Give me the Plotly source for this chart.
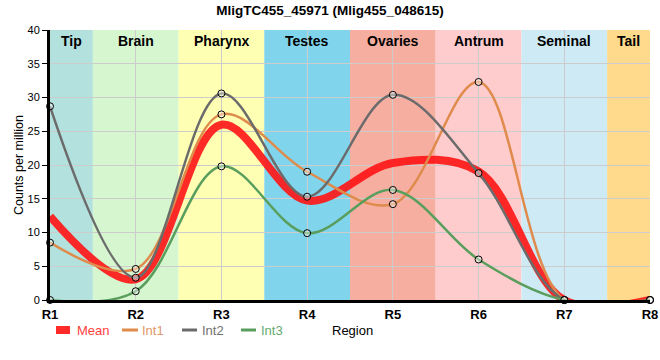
import plotly.graph_objects as go

regions = ["R1", "R2", "R3", "R4", "R5", "R6", "R7", "R8"]
int1 = [8.5, 4.6, 27.5, 19.0, 14.2, 32.3, 0.0, 0.0]
int2 = [28.7, 3.3, 30.6, 15.3, 30.4, 18.8, 0.0, 0.0]
int3 = [0.0, 1.3, 19.8, 9.9, 16.3, 6.0, 0.0, 0.0]
mean = [round((a + b + c) / 3, 2) for a, b, c in zip(int1, int2, int3)]

band_names = ["Tip", "Brain", "Pharynx", "Testes", "Ovaries", "Antrum", "Seminal", "Tail"]
band_starts = [0, 0.5, 1.5, 2.5, 3.5, 4.5, 5.5, 6.5]
band_ends = [0.5, 1.5, 2.5, 3.5, 4.5, 5.5, 6.5, 7]
band_colors = ["#b3e1dd", "#d6f6d0", "#ffffb4", "#80d5ec", "#f6aea1", "#ffccce", "#cdeaf5", "#ffd98c"]

xs = list(range(len(regions)))
FONT = "Liberation Sans, Arial, sans-serif"

# plot area in pixels (for legend placement helpers)
L, R, T, B = 50, 650, 30, 300
def px(x):
    return (x - L) / (R - L)
def py(y):
    return (B - y) / (B - T)

fig = go.Figure()

fig.add_trace(go.Scatter(
    x=xs, y=mean, mode="lines", name="Mean", showlegend=False,
    line=dict(color="rgba(255,20,20,0.9)", width=8, shape="spline", smoothing=1),
))
series = [("Int1", int1, "#df8b4c"), ("Int2", int2, "#6b6b6b"), ("Int3", int3, "#5a9e5e")]
for name, vals, col in series:
    fig.add_trace(go.Scatter(
        x=xs, y=vals, mode="lines+markers", name=name, showlegend=False, cliponaxis=False,
        line=dict(color=col, width=2.5, shape="spline", smoothing=1),
        marker=dict(size=7, color="rgba(255,255,255,0.4)", line=dict(color="black", width=1)),
    ))

shapes = []
annotations = []
for name, x0, x1, c in zip(band_names, band_starts, band_ends, band_colors):
    shapes.append(dict(type="rect", xref="x", yref="y", x0=x0, x1=x1, y0=0, y1=40,
                       fillcolor=c, line=dict(width=0), layer="below"))
    annotations.append(dict(x=(x0 + x1) / 2, y=40, xref="x", yref="y", yanchor="top", yshift=-1,
                            text=f"<b>{name}</b>", showarrow=False,
                            font=dict(family=FONT, size=14, color="black")))

# manual legend
legend_items = [
    ("Mean", "rgba(255,20,20,0.9)", "#ff4040", 56, 70, 75, 8),
    ("Int1", "#df8b4c", "#e0966a", 122, 138, 140, 3),
    ("Int2", "#6b6b6b", "#707070", 182, 197, 200, 3),
    ("Int3", "#5a9e5e", "#66aa70", 241, 256, 259, 3),
]
ly = 330
for name, lcol, tcol, x0, x1, tx, w in legend_items:
    shapes.append(dict(type="line", xref="paper", yref="paper", x0=px(x0), x1=px(x1),
                       y0=py(ly), y1=py(ly), line=dict(color=lcol, width=w)))
    annotations.append(dict(x=px(tx), y=py(ly), xref="paper", yref="paper", xanchor="left",
                            yanchor="middle", text=name, showarrow=False,
                            font=dict(family=FONT, size=13, color=tcol)))
annotations.append(dict(x=px(352), y=py(331), xref="paper", yref="paper", text="Region", showarrow=False,
                        xanchor="center", yanchor="middle", font=dict(family=FONT, size=13, color="black")))

fig.update_layout(
    width=660, height=360,
    margin=dict(l=L, r=660 - R, t=T, b=360 - B, autoexpand=False),
    paper_bgcolor="white", plot_bgcolor="white",
    title=dict(text="<b>MligTC455_45971 (Mlig455_048615)</b>", x=0.5, xanchor="center",
               y=0.972, yanchor="middle", yref="container",
               font=dict(family=FONT, size=13.5, color="black")),
    shapes=shapes, annotations=annotations,
    showlegend=False,
    xaxis=dict(range=[0, 7], tickmode="array", tickvals=xs, automargin=False,
               ticktext=[f"<b>{r}</b>" for r in regions],
               showgrid=True, gridcolor="#cccccc", gridwidth=1,
               showline=True, linecolor="black", linewidth=3, zeroline=False,
               ticks="", tickfont=dict(family=FONT, size=13, color="black")),
    yaxis=dict(range=[0, 40], dtick=5, showgrid=True, gridcolor="#cccccc", gridwidth=1,
               automargin=False,
               showline=True, linecolor="black", linewidth=3, zeroline=False,
               ticks="outside", ticklen=5, tickcolor="black",
               tickfont=dict(family=FONT, size=11, color="black"),
               title=dict(text="Counts per million", standoff=2,
                          font=dict(family=FONT, size=12.5, color="black"))),
)

fig.write_html("out.html", config={"displayModeBar": False},
               post_script="document.body.style.margin='0';")
